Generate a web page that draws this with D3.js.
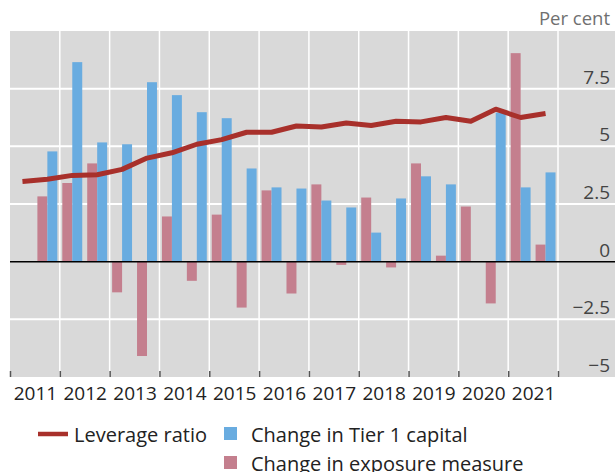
<!DOCTYPE html>
<html>
<head>
    <meta charset="utf-8" />
    <script src="https://cdn.jsdelivr.net/npm/d3@7"></script>
    <style>
        html, body { margin: 0; padding: 0; background: #fff; }
        svg { display: block; font-family: "Open Sans", sans-serif; }
    </style>
</head>
<body>
    <div id="svg-canvas"></div>
    <script>
        // half-year periods, 2011 H1 .. 2021 H2
        var periods = ['2011H1', '2011H2', '2012H1', '2012H2', '2013H1', '2013H2', '2014H1', '2014H2',
            '2015H1', '2015H2', '2016H1', '2016H2', '2017H1', '2017H2', '2018H1', '2018H2',
            '2019H1', '2019H2', '2020H1', '2020H2', '2021H1', '2021H2'];
        var leverage = [3.48, 3.57, 3.74, 3.77, 4.0, 4.49, 4.72, 5.09, 5.29, 5.61, 5.61,
            5.88, 5.84, 6.01, 5.9, 6.09, 6.06, 6.25, 6.09, 6.61, 6.25, 6.42];
        // bar series start in 2011 H2
        var tier1 = [null, 4.78, 8.65, 5.17, 5.09, 7.78, 7.22, 6.48, 6.22, 4.04, 3.22,
            3.17, 2.65, 2.35, 1.26, 2.74, 3.7, 3.35, 0, 6.46, 3.22, 3.87];
        var exposure = [null, 2.83, 3.41, 4.26, -1.33, -4.09, 1.96, -0.83, 2.04, -1.99, 3.09,
            -1.38, 3.35, -0.14, 2.78, -0.25, 4.26, 0.26, 2.39, -1.81, 9.04, 0.74];
        var years = [2011, 2012, 2013, 2014, 2015, 2016, 2017, 2018, 2019, 2020, 2021];
        var yTicks = [-5, -2.5, 0, 2.5, 5, 7.5];
        var gridY = [-2.5, 2.5, 5, 7.5];

        var W = 615, H = 472;
        var pLeft = 10, pRight = 615, pTop = 31, pBottom = 377;

        var svg = d3.select('#svg-canvas').append('svg')
            .attr('width', W)
            .attr('height', H);

        var yearX = d3.scaleLinear().domain([2011, 2022]).range([pLeft, 558]);
        var x = d3.scaleBand().domain(periods).range([pLeft, 558]);
        var x2 = d3.scaleBand().domain(['exposure', 'tier1'])
            .range([0, x.bandwidth()]).paddingOuter(0.25);
        var y = d3.scaleLinear().domain([-5, 10]).range([pBottom, pTop]);

        // plot background
        svg.append('rect')
            .attr('x', pLeft).attr('y', pTop)
            .attr('width', pRight - pLeft).attr('height', pBottom - pTop)
            .attr('fill', '#d9d9d9');

        // grid
        svg.append('g').selectAll('line')
            .data(gridY).join('line')
            .attr('x1', pLeft).attr('x2', pRight)
            .attr('y1', d => y(d)).attr('y2', d => y(d))
            .attr('stroke', '#fff').attr('stroke-width', 2);

        svg.append('g').selectAll('line')
            .data(d3.range(2012, 2023)).join('line')
            .attr('x1', d => yearX(d)).attr('x2', d => yearX(d))
            .attr('y1', pTop).attr('y2', pBottom)
            .attr('stroke', '#fff').attr('stroke-width', 1.5);

        // bars
        var bars = svg.append('g');
        bars.selectAll('rect.exp')
            .data(periods.map((p, i) => ({ p: p, v: exposure[i] })).filter(d => d.v !== null))
            .join('rect')
            .attr('class', 'exp')
            .attr('x', d => x(d.p) + x2('exposure'))
            .attr('width', x2.bandwidth())
            .attr('y', d => y(Math.max(0, d.v)))
            .attr('height', d => Math.abs(y(d.v) - y(0)))
            .attr('fill', '#c47f8e');

        bars.selectAll('rect.t1')
            .data(periods.map((p, i) => ({ p: p, v: tier1[i] })).filter(d => d.v !== null))
            .join('rect')
            .attr('class', 't1')
            .attr('x', d => x(d.p) + x2('tier1'))
            .attr('width', x2.bandwidth())
            .attr('y', d => y(Math.max(0, d.v)))
            .attr('height', d => Math.abs(y(d.v) - y(0)))
            .attr('fill', '#69ace0');

        // zero line
        svg.append('line')
            .attr('x1', pLeft).attr('x2', pRight)
            .attr('y1', y(0)).attr('y2', y(0))
            .attr('stroke', '#000').attr('stroke-width', 1.5);

        // leverage ratio line
        var line = d3.line()
            .x((d, i) => x(periods[i]) + x.bandwidth() / 2)
            .y(d => y(d));

        svg.append('path')
            .datum(leverage)
            .attr('d', line)
            .attr('fill', 'none')
            .attr('stroke', '#a8302b')
            .attr('stroke-width', 5)
            .attr('stroke-linejoin', 'round');

        // x axis: tick marks at year boundaries, labels centred in each year
        var tickAxis = svg.append('g')
            .attr('transform', `translate(0, ${pBottom})`)
            .call(d3.axisBottom(yearX).tickValues(d3.range(2011, 2023)).tickSize(-6).tickFormat(''));
        tickAxis.select('.domain').remove();
        tickAxis.selectAll('line').attr('stroke', '#555').attr('stroke-width', 1.5);

        var labelAxis = svg.append('g')
            .attr('transform', `translate(0, ${pBottom})`)
            .call(d3.axisBottom(yearX).tickValues(years.map(d => d + 0.5))
                .tickSize(0).tickPadding(10).tickFormat(d => Math.floor(d)));
        labelAxis.select('.domain').remove();
        labelAxis.selectAll('text')
            .attr('font-family', '"Open Sans", sans-serif')
            .attr('font-size', 19)
            .attr('fill', '#222');

        // y axis labels on the right, sitting above their gridlines
        var yAxis = svg.append('g')
            .attr('transform', `translate(610, 0)`)
            .call(d3.axisLeft(y).tickValues(yTicks).tickSize(0).tickPadding(0)
                .tickFormat(d => (d < 0 ? '\u2212' : '') + Math.abs(d)));
        yAxis.select('.domain').remove();
        yAxis.selectAll('text')
            .attr('dy', -5.5)
            .attr('font-family', '"Open Sans", sans-serif')
            .attr('font-size', 19)
            .attr('fill', '#444');

        svg.append('text')
            .attr('x', 610).attr('y', 25)
            .attr('text-anchor', 'end')
            .attr('font-size', 18.5)
            .attr('fill', '#707070')
            .text('Per cent');

        // legend
        var legend = svg.append('g').attr('font-size', 20).attr('fill', '#222');
        legend.append('line')
            .attr('x1', 38).attr('x2', 68).attr('y1', 434).attr('y2', 434)
            .attr('stroke', '#a8302b').attr('stroke-width', 4.5);
        legend.append('text').attr('x', 74).attr('y', 442).text('Leverage ratio');
        legend.append('rect')
            .attr('x', 224).attr('y', 427).attr('width', 13).attr('height', 13)
            .attr('fill', '#69ace0');
        legend.append('text').attr('x', 251).attr('y', 442).text('Change in Tier 1 capital');
        legend.append('rect')
            .attr('x', 224).attr('y', 456).attr('width', 13).attr('height', 13)
            .attr('fill', '#c47f8e');
        legend.append('text').attr('x', 251).attr('y', 471).text('Change in exposure measure');
    </script>
</body>
</html>
